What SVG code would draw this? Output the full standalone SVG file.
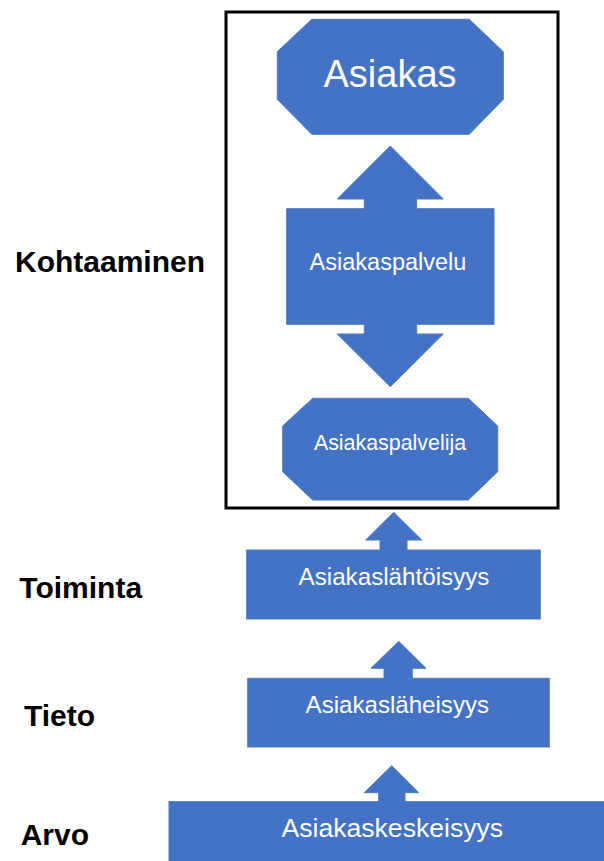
<svg xmlns="http://www.w3.org/2000/svg" width="604" height="861" viewBox="0 0 604 861">
<style>
.shape{fill:#4472C4;stroke:#4A78C8;stroke-width:1}
.lbl{font-family:"Liberation Sans",Arial,sans-serif;fill:#ffffff;text-anchor:middle}
.side{font-family:"Liberation Sans",Arial,sans-serif;font-weight:bold;fill:#000000;font-size:30px}
</style>
<rect width="604" height="861" fill="#ffffff"/>
<rect id="frame" x="226" y="12" width="332" height="496" fill="none" stroke="#000000" stroke-width="3"/>
<g id="connectors">
<polygon class="shape" points="393.7,512.3 421.7,540 407,540 407,550.5 380,550.5 380,540 365.7,540"/>
<polygon class="shape" points="398.7,641.3 426,668.3 412.3,668.3 412.3,678.8 384,678.8 384,668.3 371,668.3"/>
<polygon class="shape" points="391.7,765.7 418.7,792.7 405,792.7 405,802.2 378.7,802.2 378.7,792.7 364.3,792.7"/>
</g>
<g id="asiakas">
<polygon class="shape" points="311.7,19.3 469.3,19.3 503.3,51.7 503.3,99.3 469.3,134.3 311.7,134.3 277.3,99.3 277.3,51.7"/>
<text class="lbl" x="390" y="86.5" font-size="38">Asiakas</text>
</g>
<g id="asiakaspalvelu">
<path class="shape" d="M390.3,146 L443.3,199 L416.7,199 L416.7,208.7 L494,208.7 L494,324.3 L416.7,324.3 L416.7,334 L443.3,334 L390.3,386.7 L337.3,334 L364.3,334 L364.3,324.3 L286.7,324.3 L286.7,208.7 L364.3,208.7 L364.3,199 L337.3,199 Z"/>
<text class="lbl" x="388" y="270" font-size="23.5">Asiakaspalvelu</text>
</g>
<g id="asiakaspalvelija">
<polygon class="shape" points="312.7,398.3 468.3,398.3 497.7,426 497.7,471.7 468.3,500 312.7,500 282.7,471.7 282.7,426"/>
<text class="lbl" x="390" y="450" font-size="21.4">Asiakaspalvelija</text>
</g>
<g id="asiakaslahtoisyys">
<rect class="shape" x="246.7" y="550" width="293.6" height="69"/>
<text class="lbl" x="394" y="585" font-size="24.2">Asiakaslähtöisyys</text>
</g>
<g id="asiakaslaheisyys">
<rect class="shape" x="247.7" y="678.3" width="301.6" height="68.7"/>
<text class="lbl" x="397.3" y="713.3" font-size="24.1">Asiakasläheisyys</text>
</g>
<g id="asiakaskeskeisyys">
<rect class="shape" x="169" y="801.7" width="436" height="60"/>
<text class="lbl" x="392.3" y="836.7" font-size="26.6">Asiakaskeskeisyys</text>
</g>
<g id="kohtaaminen"><text class="side" x="15" y="271.7">Kohtaaminen</text></g>
<g id="toiminta"><text class="side" x="19.3" y="598.3">Toiminta</text></g>
<g id="tieto"><text class="side" x="24" y="725.7">Tieto</text></g>
<g id="arvo"><text class="side" x="20.7" y="845">Arvo</text></g>
</svg>
